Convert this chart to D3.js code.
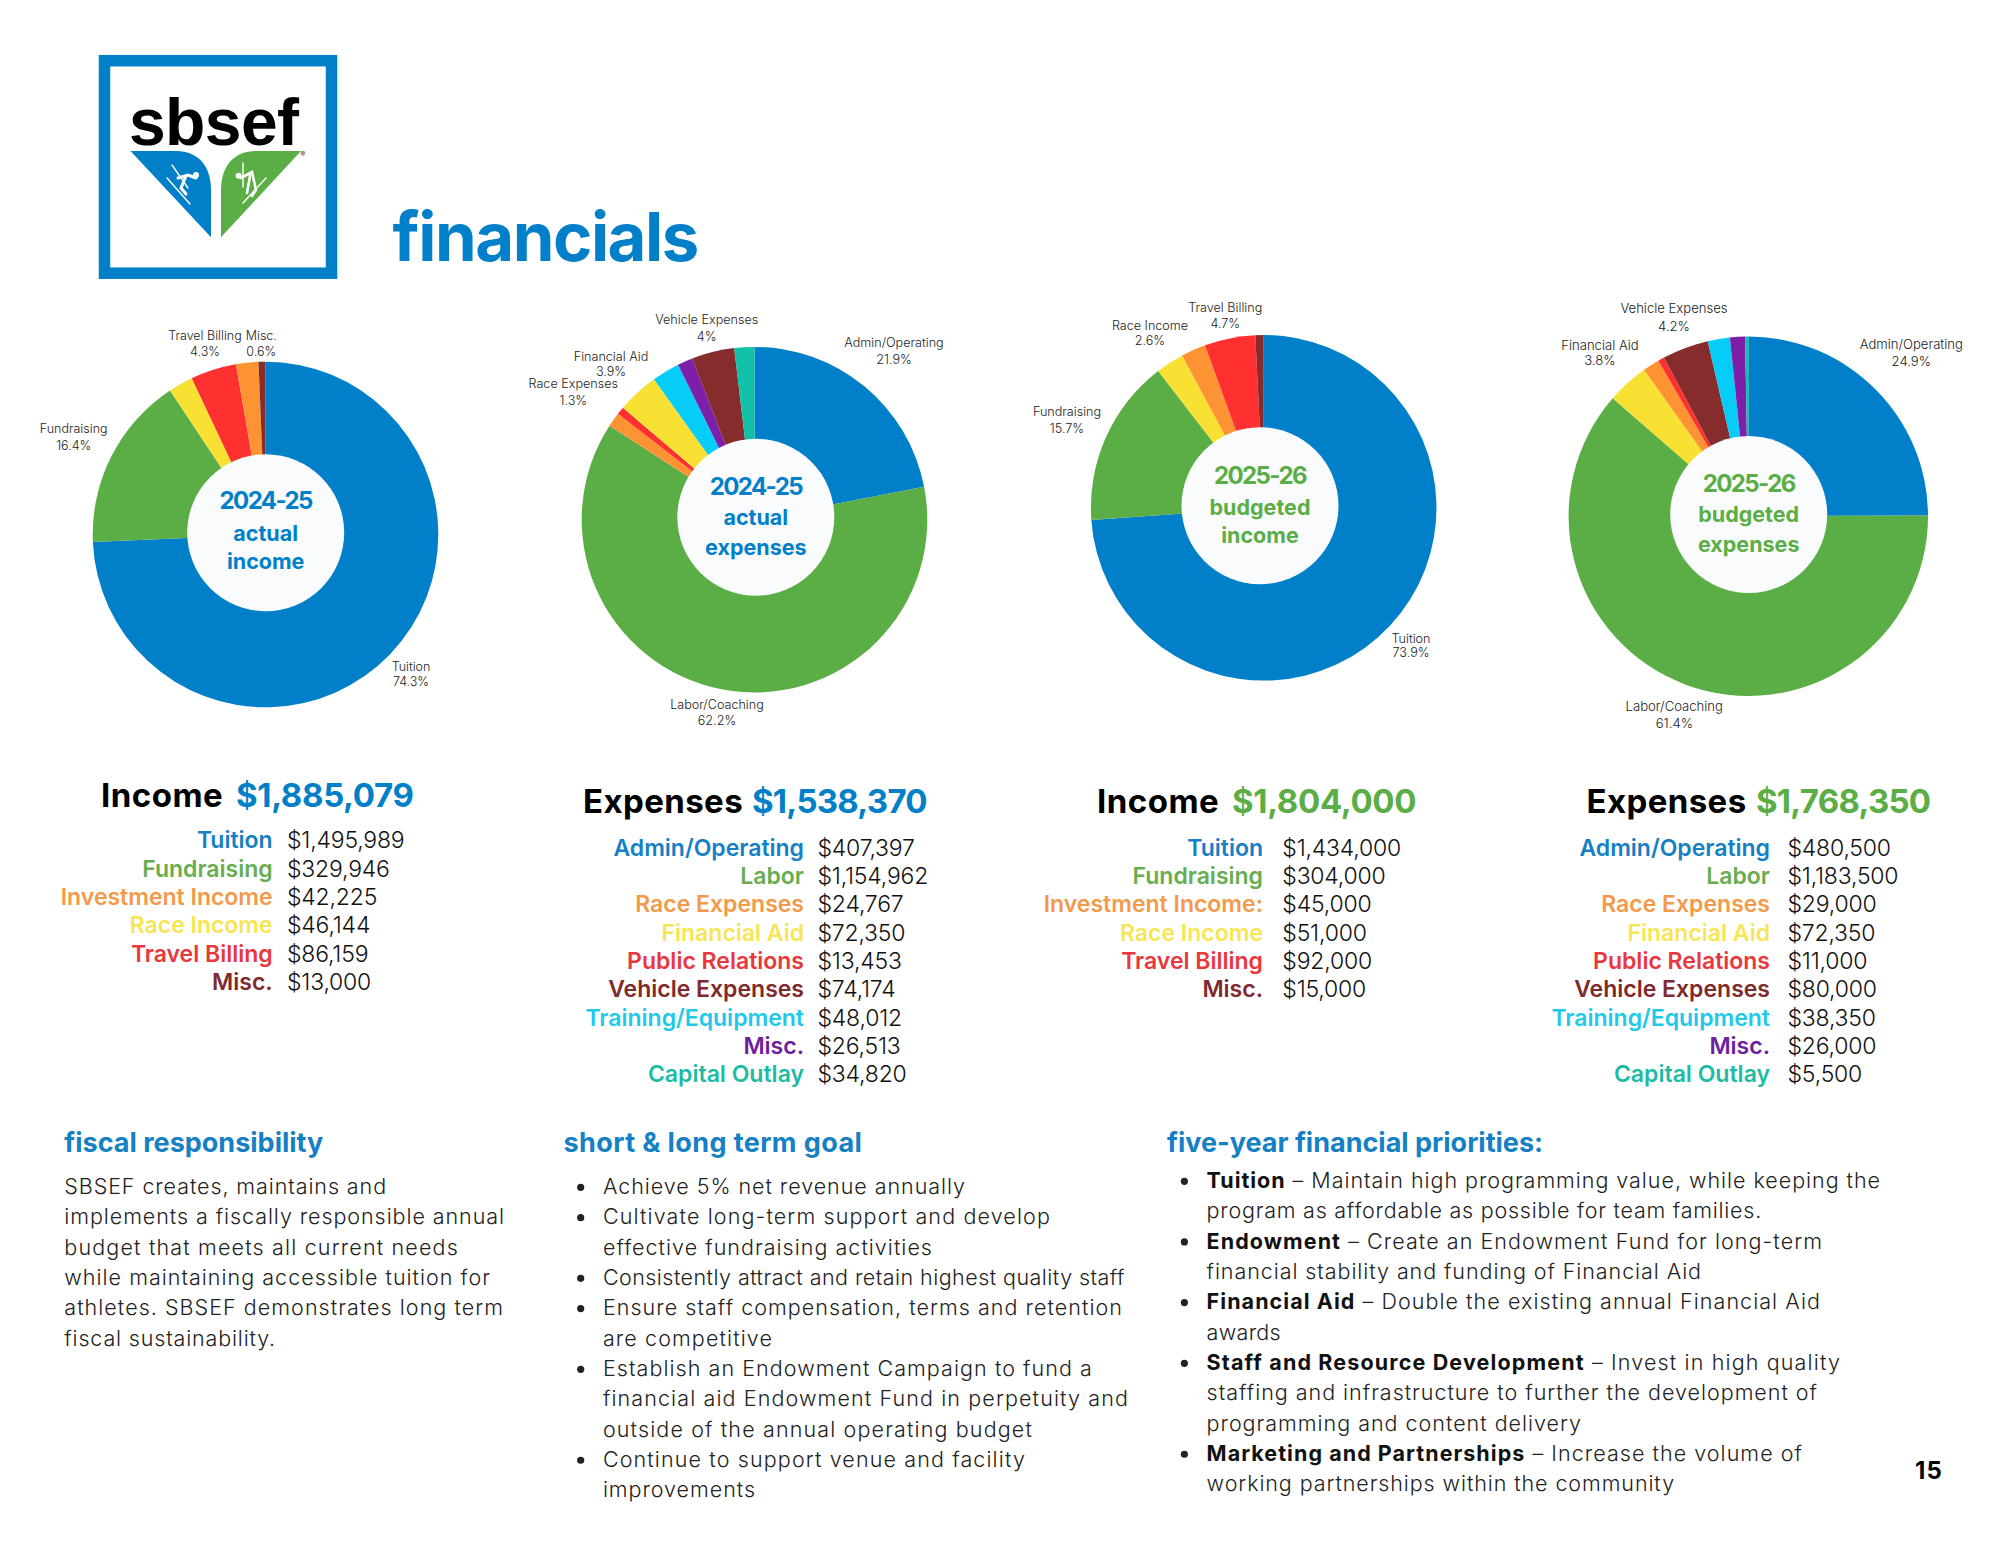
<!DOCTYPE html>
<html><head><meta charset="utf-8">
<script src="https://cdn.jsdelivr.net/npm/d3@7/dist/d3.min.js"></script>
<style>
html,body{margin:0;padding:0;background:#fff}
svg{display:block}
text{font-family:Inter,"Noto Sans",sans-serif}
</style></head><body><div id="chart"></div>
<script>
// ---------- data ----------
const incomeActualCategories = ["Tuition","Fundraising","Investment Income","Race Income","Travel Billing","Misc."];
const incomeActualValues = [1495989,329946,42225,46144,86159,13000];
const expenseActualCategories = ["Admin/Operating","Labor","Race Expenses","Financial Aid","Public Relations","Vehicle Expenses","Training/Equipment","Misc.","Capital Outlay"];
const expenseActualValues = [407397,1154962,24767,72350,13453,74174,48012,26513,34820];
const incomeBudgetCategories = ["Tuition","Fundraising","Investment Income:","Race Income","Travel Billing","Misc."];
const incomeBudgetValues = [1434000,304000,45000,51000,92000,15000];
const expenseBudgetCategories = expenseActualCategories;
const expenseBudgetValues = [480500,1183500,29000,72350,11000,80000,38350,26000,5500];
const totals = [1885079,1538370,1804000,1768350];
const sliceOrders = [[0,1,3,4,2,5],[0,1,2,4,3,6,7,5,8],[0,1,3,2,4,5],[0,1,3,2,4,5,6,7,8]];
const centerTitles = [["2024-25","actual","income"],["2024-25","actual","expenses"],["2025-26","budgeted","income"],["2025-26","budgeted","expenses"]];
const pieLabels = [
 [["Travel Billing","4.3%"],["Misc.","0.6%"],["Fundraising","16.4%"],["Tuition","74.3%"]],
 [["Vehicle Expenses","4%"],["Admin/Operating","21.9%"],["Financial Aid","3.9%"],["Race Expenses","1.3%"],["Labor/Coaching","62.2%"]],
 [["Travel Billing","4.7%"],["Race Income","2.6%"],["Fundraising","15.7%"],["Tuition","73.9%"]],
 [["Vehicle Expenses","4.2%"],["Financial Aid","3.8%"],["Admin/Operating","24.9%"],["Labor/Coaching","61.4%"]]
];
const fiscalLines = ["SBSEF creates, maintains and","implements a fiscally responsible annual","budget that meets all current needs","while maintaining accessible tuition for","athletes. SBSEF demonstrates long term","fiscal sustainability."];
const goalLines = [[1,"Achieve 5% net revenue annually"],[1,"Cultivate long-term support and develop"],[0,"effective fundraising activities"],[1,"Consistently attract and retain highest quality staff"],[1,"Ensure staff compensation, terms and retention"],[0,"are competitive"],[1,"Establish an Endowment Campaign to fund a"],[0,"financial aid Endowment Fund in perpetuity and"],[0,"outside of the annual operating budget"],[1,"Continue to support venue and facility"],[0,"improvements"]];
const priorityLines = [[1,"Tuition"," – Maintain high programming value, while keeping the"],[0,"","program as affordable as possible for team families."],[1,"Endowment"," – Create an Endowment Fund for long-term"],[0,"","financial stability and funding of Financial Aid"],[1,"Financial Aid"," – Double the existing annual Financial Aid"],[0,"","awards"],[1,"Staff and Resource Development"," – Invest in high quality"],[0,"","staffing and infrastructure to further the development of"],[0,"","programming and content delivery"],[1,"Marketing and Partnerships"," – Increase the volume of"],[0,"","working partnerships within the community"]];

// ---------- style / layout ----------
const fiscalRight=[387,505,459,491,504,276];
const goalRight=[966,1051,933,1125,1123,773,1093,1129,1033,1026,756];
const priorityRight=[1881,1762,1823,1702,1821,1281,1841,1818,1582,1803,1675];
const BLUE="#0180c9",GREEN="#5bad45";
const incomeColors=[BLUE,GREEN,"#fd9332","#f9e133","#fe3030","#862c2c"];
const expenseColors=[BLUE,GREEN,"#fd9332","#f9e133","#fe3030","#862c2c","#05cdf8","#7d1fa8","#12c1a8"];
const legendIncome=["#1580c4","#68ad50","#f29a4a","#f7e555","#e8383d","#7f2a2c"];
const legendExpense=["#1580c4","#68ad50","#f29a4a","#f7e555","#e8383d","#7f2a2c","#1fc9e8","#6e1f9e","#1dbba4"];
const panels=[
 {cx:265.5,cy:534.5,r:172.8,hx:265.7,hy:532.7,tc:BLUE,ty:[500.7,533,561.7],ls:12.5,hs:0.5,vs:-0.35,
  labels:[[205,335,351.7],[261.3,335,351.7],[73.7,428.3,445.3],[411,666.7,681]],
  head:"Income",hx0:101,hv:236,hy0:806.5,lr:272.7,lv:287,ly:840,colors:incomeColors,legend:legendIncome,cats:incomeActualCategories,vals:incomeActualValues},
 {cx:754.5,cy:519.7,r:172.8,hx:755.8,hy:517.2,tc:BLUE,ty:[486,517.7,547],ls:12.6,hs:0.4,vs:-0.75,
  labels:[[706.7,319.3,336.7],[894,342.7,359.3],[611,356.3,371.3],[573.3,383.3,400.7],[717,704.3,720.7]],
  head:"Expenses",hx0:583,hv:752,hy0:813,lr:804,lv:817.5,ly:847.3,colors:expenseColors,legend:legendExpense,cats:expenseActualCategories,vals:expenseActualValues},
 {cx:1263.7,cy:507.8,r:172.8,hx:1260,hy:505.7,tc:GREEN,ty:[475,507,535.7],ls:12.6,hs:0.5,vs:-0.35,
  labels:[[1225.3,307.3,323.3],[1150,325.3,340.3],[1067,411.3,428.3],[1411,638.3,652]],
  head:"Income",hx0:1097,hv:1232,hy0:813,lr:1263,lv:1282.3,ly:847.3,colors:incomeColors,legend:legendIncome,cats:incomeBudgetCategories,vals:incomeBudgetValues},
 {cx:1748.3,cy:516.2,r:179.7,hx:1748.7,hy:514.5,tc:GREEN,ty:[483,514.7,544],ls:13.1,hs:0.4,vs:-0.75,
  labels:[[1674,308.3,326.7],[1600,345,360.7],[1911.3,344.3,361],[1674.3,706.3,723.3]],
  head:"Expenses",hx0:1586.5,hv:1756,hy0:813,lr:1770,lv:1787.5,ly:847.3,colors:expenseColors,legend:legendExpense,cats:expenseBudgetCategories,vals:expenseBudgetValues}
];
const fmt=d3.format("$,");
const svg=d3.select("#chart").append("svg").attr("width",2000).attr("height",1545).attr("viewBox","0 0 2000 1545");
svg.append("rect").attr("width",2000).attr("height",1545).attr("fill","#fff");

// ---------- logo ----------
const logo=svg.append("g");
logo.append("rect").attr("x",104.5).attr("y",60.7).attr("width",227).attr("height",212.5).attr("fill","#fff").attr("stroke",BLUE).attr("stroke-width",11.5);
logo.append("text").attr("x",129).attr("y",145).attr("font-size",66).attr("font-weight",700).attr("letter-spacing",-0.6).attr("fill","#000").style("font-family","Liberation Sans").text("sbsef");
logo.append("path").attr("d","M130.5 151H176C198 151 211 166 211 190V237.3Z").attr("fill",BLUE);
logo.append("path").attr("d","M301 151H256.4C234 151 221 166 221 190V237.3Z").attr("fill",GREEN);
logo.append("text").attr("x",300.5).attr("y",157).attr("font-size",7).attr("fill","#333").text("®");
const wl=(g,d,w)=>g.append("path").attr("d",d).attr("fill","none").attr("stroke","#fff").attr("stroke-width",w).attr("stroke-linecap","round");
wl(logo,"M167 178L190 204M172 165L188 188",1.4);
wl(logo,"M178 178L188 175L196 178M186 176L181 188L186 194",3);
logo.append("circle").attr("cx",196).attr("cy",175).attr("r",3).attr("fill","#fff");
wl(logo,"M243 203L266 178M243 163V187",1.4);
wl(logo,"M241 178L252 172L256 190L252 196M250 176L247 193",2.6);
logo.append("circle").attr("cx",238.6).attr("cy",175.7).attr("r",3).attr("fill","#fff");

svg.append("text").attr("x",392.5).attr("y",260.7).attr("font-size",67).attr("font-weight",700).attr("fill",BLUE).attr("letter-spacing",-1.45).text("financials");

// ---------- donuts ----------
const pie=d3.pie().sort(null).value(d=>d.v);
panels.forEach((p,i)=>{
  const g=svg.append("g");
  const data=sliceOrders[i].map(k=>({v:p.vals[k],c:p.colors[k]}));
  const arc=d3.arc().innerRadius(0).outerRadius(p.r);
  g.append("g").attr("transform",`translate(${p.cx},${p.cy})`).selectAll("path").data(pie(data)).join("path")
    .attr("d",arc).attr("fill",d=>d.data.c);
  g.append("circle").attr("cx",p.hx).attr("cy",p.hy).attr("r",78.5).attr("fill","#f9fbfd");
  centerTitles[i].forEach((t,j)=>{
    g.append("text").attr("x",p.hx).attr("y",p.ty[j]).attr("dy","0.36em").attr("text-anchor","middle")
     .attr("font-size",j?21.5:24).attr("letter-spacing",j?0:-1.6).attr("font-weight",700).attr("fill",p.tc).text(t);
  });
  pieLabels[i].forEach((l,j)=>{
    const pos=p.labels[j];
    l.forEach((t,k)=>g.append("text").attr("x",pos[0]).attr("y",pos[k+1]).attr("dy","0.36em").attr("text-anchor","middle")
      .attr("font-size",p.ls).attr("font-weight",300).attr("fill","#1c1c1c").text(t));
  });
  // heading
  g.append("text").attr("x",p.hx0).attr("y",p.hy0).attr("font-size",33).attr("font-weight",700).attr("letter-spacing",p.hs).attr("fill","#000").text(p.head);
  g.append("text").attr("x",p.hv).attr("y",p.hy0).attr("font-size",33).attr("font-weight",700).attr("letter-spacing",p.vs).attr("fill",p.tc).text(fmt(totals[i]));
  // table
  p.cats.forEach((c,j)=>{
    const y=p.ly+j*28.33;
    g.append("text").attr("x",p.lr).attr("y",y).attr("dy","0.36em").attr("text-anchor","end").attr("font-size",23).attr("font-weight",600).attr("fill",p.legend[j]).text(c);
    g.append("text").attr("x",p.lv).attr("y",y).attr("dy","0.36em").attr("font-size",23).attr("font-weight",300).attr("letter-spacing",-0.2).attr("fill","#111").text(fmt(p.vals[j]));
  });
});

// ---------- bottom text ----------
const STEP=30.33;
const heading=(x,t,ls)=>svg.append("text").attr("x",x).attr("y",1142).attr("dy","0.36em").attr("font-size",27).attr("font-weight",700).attr("letter-spacing",ls).attr("fill","#1580c4").text(t);
const body=(x,y)=>svg.append("text").attr("x",x).attr("y",y).attr("dy","0.36em").attr("font-size",21.5).attr("font-weight",300).attr("fill","#222");
// stretches one line of text so that it ends where the reference line ends
const fit=(t,x,right)=>{const n=t.text().length;const w=t.node().getComputedTextLength();t.attr("letter-spacing",(right-x-w)/n);};
heading(64.3,"fiscal responsibility",0);
heading(563.6,"short & long term goal",0.4);
heading(1167,"five-year financial priorities:",0);
fiscalLines.forEach((s,i)=>{const t=body(64.3,1186.3+i*STEP).text(s);fit(t,64.3,fiscalRight[i]);});
goalLines.forEach((l,i)=>{
  const y=1186.3+i*STEP;
  if(l[0]) svg.append("circle").attr("cx",580.7).attr("cy",y+1).attr("r",3.6).attr("fill","#222");
  const t=body(602.9,y).text(l[1]);fit(t,602.9,goalRight[i]);
});
priorityLines.forEach((l,i)=>{
  const y=1180.3+i*STEP;
  if(l[0]) svg.append("circle").attr("cx",1184.4).attr("cy",y+1).attr("r",3.6).attr("fill","#222");
  const t=body(1206.6,y);
  if(l[1]) t.append("tspan").attr("font-weight",700).attr("fill","#111").text(l[1]);
  t.append("tspan").text(l[2]);
  fit(t,1206.6,priorityRight[i]);
});
svg.append("text").attr("x",1915).attr("y",1470.7).attr("dy","0.36em").attr("font-size",24).attr("font-weight",700).attr("fill","#000").attr("letter-spacing",1.2).text("15");
</script></body></html>
